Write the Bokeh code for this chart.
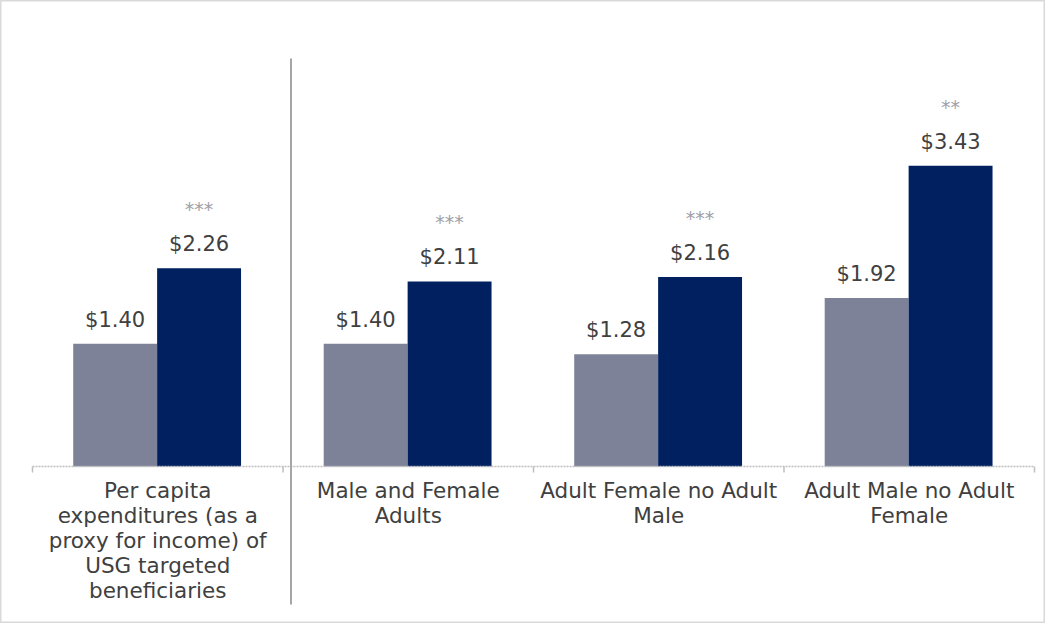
from bokeh.plotting import figure
from bokeh.models import Range1d, ColumnDataSource
from bokeh.core.properties import value
from bokeh.embed import file_html
from bokeh.resources import INLINE

# ---- data ----
categories = [
    "Per capita\nexpenditures (as a\nproxy for income) of\nUSG targeted\nbeneficiaries",
    "Male and Female\nAdults",
    "Adult Female no Adult\nMale",
    "Adult Male no Adult\nFemale",
]
series_gray = [1.40, 1.40, 1.28, 1.92]
series_navy = [2.26, 2.11, 2.16, 3.43]
significance = ["***", "***", "***", "**"]

# ---- layout / style ----
W, H = 1045, 623
PXU_X = 250.5      # px per category
PXU_Y = 87.7       # px per dollar
X0_PX = 32         # figure px where category 0 starts
Y0_PX = 466        # figure px (from top) of baseline
FONT = value("DejaVu Sans")
TXT = "#404040"
GRAY = "#7e8299"
NAVY = "#002060"

x_start = -X0_PX / PXU_X
x_end = (W - X0_PX) / PXU_X
y_top = Y0_PX / PXU_Y
y_bot = -(H - Y0_PX) / PXU_Y

p = figure(width=W, height=H, output_backend="svg", toolbar_location=None,
           x_range=Range1d(x_start, x_end), y_range=Range1d(y_bot, y_top),
           min_border=0)
p.axis.visible = False
p.grid.visible = False
p.outline_line_color = "#d9d9d9"
p.outline_line_width = 2
p.background_fill_color = "white"

n = len(categories)
idx = list(range(n))

src = ColumnDataSource(dict(
    xg=[i + 0.33 for i in idx], xn=[i + 0.665 for i in idx],
    g=series_gray, nv=series_navy,
    gl=[f"${v:.2f}" for v in series_gray], nl=[f"${v:.2f}" for v in series_navy],
    gy=[v + 24 / PXU_Y for v in series_gray], ny=[v + 24 / PXU_Y for v in series_navy],
    sy=[v + 59 / PXU_Y for v in series_navy], sig=significance,
    xc=[i + 0.5 for i in idx], cat=categories,
))

p.vbar(x="xg", top="g", bottom=0, width=0.335, source=src, fill_color=GRAY, line_color=None)
p.vbar(x="xn", top="nv", bottom=0, width=0.335, source=src, fill_color=NAVY, line_color=None)

# baseline axis (dotted) with ticks at category boundaries
p.segment(x0=[0], y0=[0], x1=[n], y1=[0], line_color="#bfbfbf", line_width=1.5, line_dash="2 1")
p.segment(x0=list(range(n + 1)), y0=[0] * (n + 1), x1=list(range(n + 1)),
          y1=[-6 / PXU_Y] * (n + 1), line_color="#bfbfbf", line_width=1.5)

# vertical separator
p.segment(x0=[1 + 8 / PXU_X], y0=[(474 - 66) / PXU_Y], x1=[1 + 8 / PXU_X],
          y1=[-(612 - 474) / PXU_Y], line_color="#a6a6a6", line_width=2)

# value labels
p.text(x="xg", y="gy", text="gl", source=src, text_font=FONT, text_font_size="21px",
       text_color=TXT, text_align="center", text_baseline="middle")
p.text(x="xn", y="ny", text="nl", source=src, text_font=FONT, text_font_size="21px",
       text_color=TXT, text_align="center", text_baseline="middle")
p.text(x="xn", y="sy", text="sig", source=src, text_font=FONT, text_font_size="19px",
       text_color="#a0a0a8", text_align="center", text_baseline="middle")

# category labels
p.text(x="xc", y=-11 / PXU_Y, text="cat", source=src, text_font=FONT, text_font_size="21.5px",
       text_color=TXT, text_align="center", text_baseline="top", text_line_height=1.0)

open("out.html", "w").write(file_html(p, INLINE))
